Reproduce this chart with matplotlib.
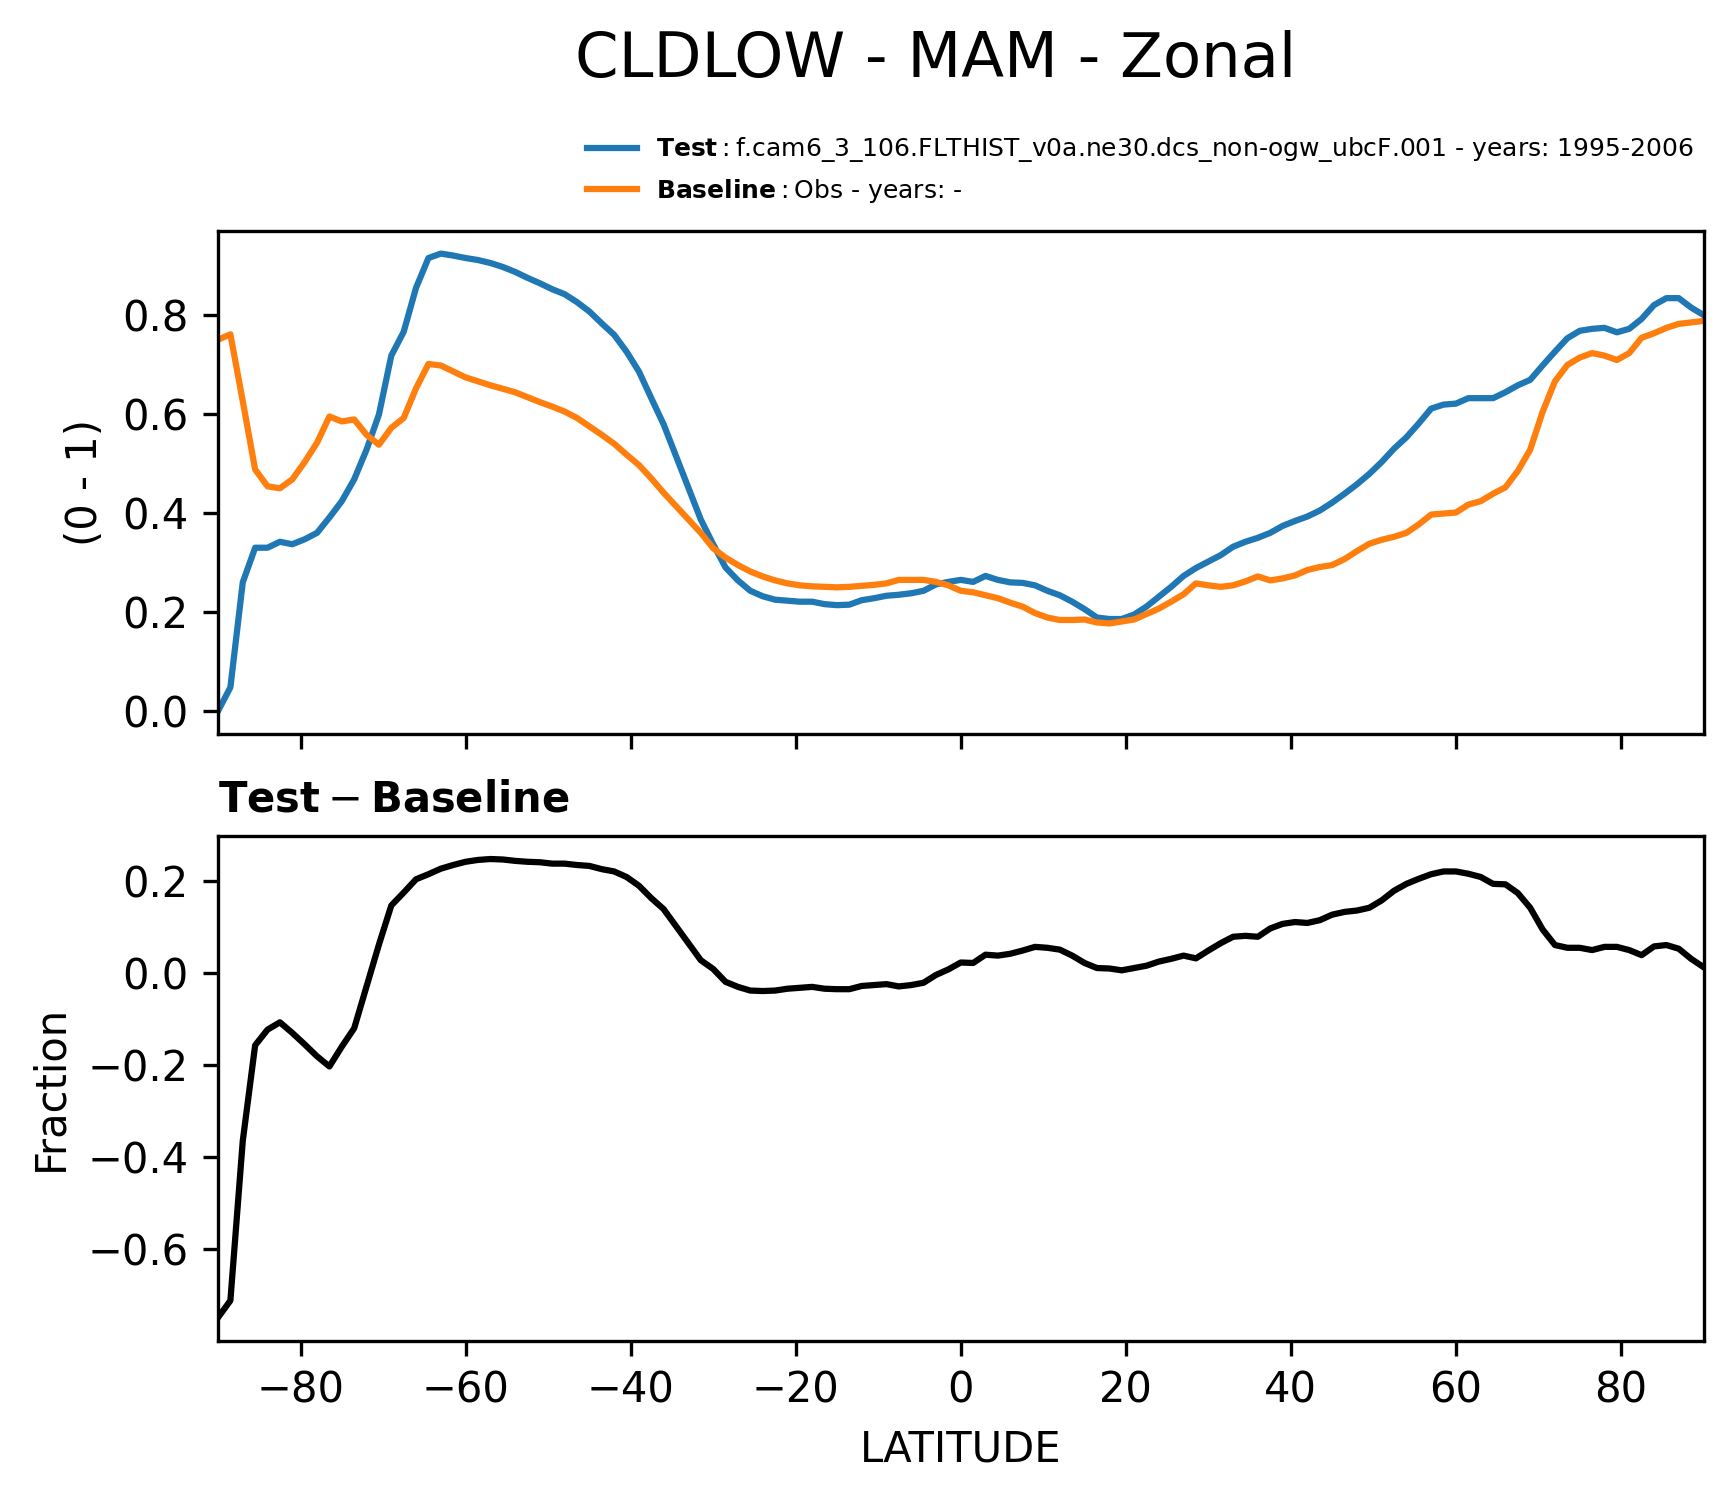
import numpy as np
import matplotlib
matplotlib.use("Agg")
import matplotlib.pyplot as plt

# latitude grid (1.5 deg)
lat = np.arange(-90, 90.1, 1.5)

# CLDLOW zonal mean, test case
test = [0.000, 0.048, 0.260, 0.330, 0.330, 0.342, 0.337, 0.347, 0.360, 0.391,
        0.424, 0.468, 0.528, 0.599, 0.718, 0.766, 0.855, 0.915, 0.924, 0.920,
        0.915, 0.911, 0.905, 0.897, 0.887, 0.875, 0.864, 0.852, 0.842, 0.826,
        0.807, 0.783, 0.760, 0.726, 0.686, 0.632, 0.579, 0.515, 0.451, 0.387,
        0.337, 0.290, 0.264, 0.243, 0.232, 0.225, 0.223, 0.221, 0.221, 0.216,
        0.214, 0.215, 0.224, 0.228, 0.233, 0.235, 0.238, 0.243, 0.256, 0.261,
        0.265, 0.261, 0.273, 0.265, 0.260, 0.259, 0.254, 0.243, 0.234, 0.221,
        0.206, 0.189, 0.186, 0.186, 0.195, 0.211, 0.231, 0.251, 0.273, 0.289,
        0.302, 0.315, 0.332, 0.342, 0.350, 0.360, 0.374, 0.384, 0.393, 0.405,
        0.421, 0.439, 0.458, 0.479, 0.503, 0.530, 0.553, 0.581, 0.611, 0.619,
        0.621, 0.632, 0.632, 0.632, 0.644, 0.658, 0.669, 0.698, 0.726, 0.753,
        0.768, 0.772, 0.774, 0.765, 0.772, 0.792, 0.820, 0.834, 0.834, 0.815,
        0.800]

# CLDLOW zonal mean, obs baseline
base = [0.750, 0.761, 0.626, 0.488, 0.454, 0.450, 0.468, 0.503, 0.542, 0.595,
        0.585, 0.589, 0.558, 0.538, 0.572, 0.592, 0.652, 0.701, 0.698, 0.686,
        0.674, 0.666, 0.658, 0.651, 0.644, 0.634, 0.624, 0.615, 0.605, 0.592,
        0.575, 0.558, 0.540, 0.518, 0.497, 0.470, 0.441, 0.414, 0.387, 0.360,
        0.329, 0.310, 0.295, 0.282, 0.272, 0.264, 0.258, 0.254, 0.252, 0.251,
        0.250, 0.251, 0.253, 0.255, 0.258, 0.265, 0.265, 0.265, 0.261, 0.254,
        0.243, 0.240, 0.234, 0.228, 0.219, 0.211, 0.198, 0.189, 0.184, 0.184,
        0.185, 0.179, 0.177, 0.181, 0.185, 0.196, 0.207, 0.221, 0.236, 0.258,
        0.254, 0.251, 0.254, 0.262, 0.272, 0.264, 0.268, 0.274, 0.285, 0.291,
        0.295, 0.307, 0.323, 0.338, 0.346, 0.352, 0.360, 0.377, 0.397, 0.399,
        0.401, 0.417, 0.424, 0.439, 0.452, 0.485, 0.528, 0.604, 0.666, 0.699,
        0.714, 0.723, 0.718, 0.709, 0.723, 0.754, 0.763, 0.774, 0.782, 0.785,
        0.788]

test_label = r"$\mathbf{Test}:$f.cam6_3_106.FLTHIST_v0a.ne30.dcs_non-ogw_ubcF.001 - years: 1995-2006"
base_label = r"$\mathbf{Baseline}:$Obs - years: -"

diff = np.array(test) - np.array(base)

W, H = 1734, 1496
fig = plt.figure(figsize=(W / 300, H / 300), dpi=300)
ax1 = fig.add_axes([218 / W, 1 - 734 / H, 1485.5 / W, 503.3 / H])
ax2 = fig.add_axes([218 / W, 1 - 1340.5 / H, 1485.5 / W, 504.4 / H], sharex=ax1)

ax1.plot(lat, test, color="#1f77b4", lw=1.5, label=test_label)
ax1.plot(lat, base, color="#ff7f0e", lw=1.5, label=base_label)
ax1.set_ylabel("(0 - 1)", fontsize=10)
ax1.tick_params(labelsize=10, labelbottom=False)
ax1.legend(loc="upper left", bbox_to_anchor=(564 / W, 1 - 113 / H),
           bbox_transform=fig.transFigure, frameon=False, fontsize=6)

ax2.plot(lat, diff, color="black", lw=1.5)
ax2.set_title(r"$\mathbf{Test} - \mathbf{Baseline}$", loc="left", fontsize=10)
ax2.set_ylabel("Fraction", fontsize=10)
ax2.set_xlabel("LATITUDE", fontsize=10)
ax2.tick_params(labelsize=10)
ax2.set_xlim(-90, 90)

fig.text(935.6 / W, 1 - 76.7 / H, "CLDLOW - MAM - Zonal", fontsize=15,
         ha="center", va="baseline")

fig.savefig("out.png", dpi=300)
